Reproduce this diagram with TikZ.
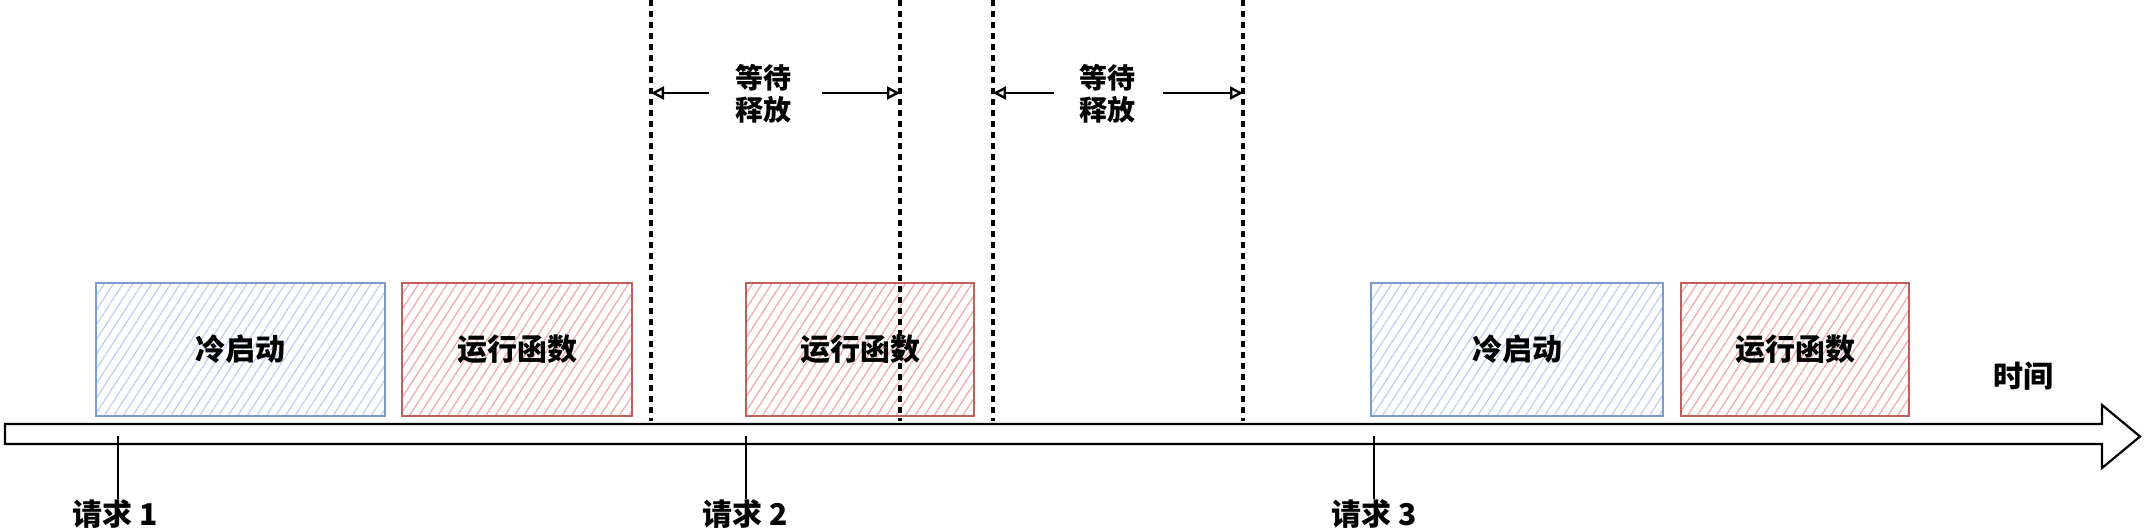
\documentclass[tikz,border=0pt]{standalone}
\usepackage{fontspec}
\setmainfont{Noto Sans CJK SC}
\usetikzlibrary{patterns.meta,arrows.meta}
\definecolor{bblue}{HTML}{7A9AD0}
\definecolor{hblue}{HTML}{C2D1EF}
\definecolor{bred}{HTML}{C0605C}
\definecolor{hred}{HTML}{EFADAB}
\begin{document}
\begin{tikzpicture}[x=1pt,y=-1pt,
  txt/.style={font=\fontsize{30}{32}\selectfont\bfseries, inner sep=0pt},
  box/.style={draw, line width=2pt, minimum width=#1, minimum height=133pt, inner sep=0pt,
    font=\fontsize{30}{32}\selectfont\bfseries},
  coldbox/.style={box=#1, draw=bblue, pattern={Lines[angle=57,distance=8pt,line width=1.3pt]}, pattern color=hblue},
  runbox/.style={box=#1, draw=bred, pattern={Lines[angle=57,distance=8pt,line width=1.3pt]}, pattern color=hred},
  waitline/.style={line width=3.5pt, dash pattern=on 6pt off 5pt},
  warr/.style={line width=2.4pt, -{Triangle[open,length=13pt,width=13pt]}},
  ticks/.style={line width=1.6pt},
  axisline/.style={line width=2.2pt, line join=miter}
]
\useasboundingbox (0,0) rectangle (2146,532);
% boxes
\node[coldbox=289pt] (b1) at (240.5,349.5) {冷启动};
\node[runbox=230pt] (r1) at (517,349.5) {运行函数};
\node[runbox=228pt] (r2) at (860,349.5) {运行函数};
\node[coldbox=292pt] (b3) at (1517,349.5) {冷启动};
\node[runbox=228pt] (r3) at (1795,349.5) {运行函数};
% wait lines
\coordinate (d1t) at (651,0);  \coordinate (d1b) at (651,421);
\coordinate (d2t) at (900,0);  \coordinate (d2b) at (900,421);
\coordinate (d3t) at (993,0);  \coordinate (d3b) at (993,421);
\coordinate (d4t) at (1243,0); \coordinate (d4b) at (1243,421);
\draw[waitline] (d1t) -- (d1b);
\draw[waitline] (d2t) -- (d2b);
\draw[waitline] (d3t) -- (d3b);
\draw[waitline] (d4t) -- (d4b);
% wait labels
\node[txt, align=center, font=\fontsize{28}{32}\selectfont\bfseries] (w1) at (763,94) {等待\\释放};
\node[txt, align=center, font=\fontsize{28}{32}\selectfont\bfseries] (w2) at (1107,94) {等待\\释放};
\coordinate (w1l) at (709,93); \coordinate (w1r) at (822,93);
\coordinate (w2l) at (1054,93); \coordinate (w2r) at (1163,93);
\draw[warr] (w1l) -- (w1l -| d1t);
\draw[warr] (w1r) -- (w1r -| d2t);
\draw[warr] (w2l) -- (w2l -| d3t);
\draw[warr] (w2r) -- (w2r -| d4t);
% time axis
\coordinate (a1) at (5,424);
\coordinate (a2) at (2102,424);
\coordinate (a3) at (2102,405);
\coordinate (a4) at (2140,436.5);
\coordinate (a5) at (2102,468);
\coordinate (a6) at (2102,444);
\coordinate (a7) at (5,444);
\draw[axisline] (a1) -- (a2) -- (a3) -- (a4) -- (a5) -- (a6) -- (a7) -- cycle;
\node[txt] (time) at (2023,376) {时间};
% requests
\node[txt] (q1) at (115,514) {请求 1};
\node[txt] (q2) at (745,514) {请求 2};
\node[txt] (q3) at (1374,514) {请求 3};
\coordinate (t1) at (118,436); \coordinate (t2) at (746,436); \coordinate (t3) at (1374,436);
\draw[ticks] (t1) -- (t1 |- q1.north);
\draw[ticks] (t2) -- (t2 |- q2.north);
\draw[ticks] (t3) -- (t3 |- q3.north);
\end{tikzpicture}
\end{document}
